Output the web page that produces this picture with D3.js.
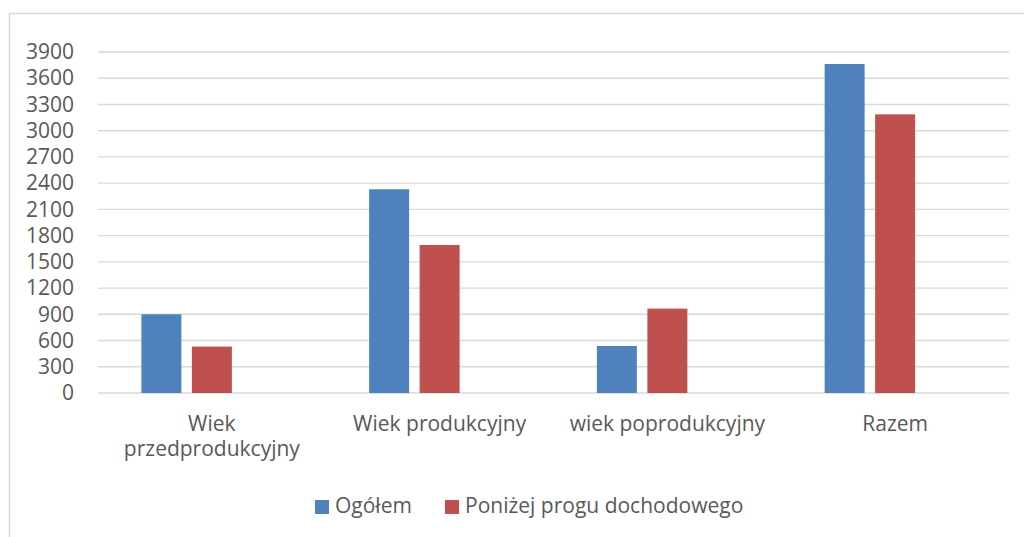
<!DOCTYPE html>
<html>
<head>
<meta charset="utf-8">
<script src="https://cdn.jsdelivr.net/npm/d3@7"></script>
<style>
  body { margin: 0; background: #fff; }
  text { font-family: 'Open Sans', sans-serif; fill: #595959; }
</style>
</head>
<body>
<div id="chart"></div>
<script>
const categories = ['Wiek przedprodukcyjny', 'Wiek produkcyjny', 'wiek poprodukcyjny', 'Razem']
const seriesNames = ['Ogółem', 'Poniżej progu dochodowego']
const ogolem = [900, 2330, 538, 3763]
const ponizej = [531, 1693, 965, 3187]
const yTicks = [0, 300, 600, 900, 1200, 1500, 1800, 2100, 2400, 2700, 3000, 3300, 3600, 3900]
const colors = ['#4f81bd', '#c0504d']

const data = categories.map((c, i) => ({ category: c, values: [ogolem[i], ponizej[i]] }))

const width = 1024
const height = 537
const margin = { left: 98, right: 15, top: 52, bottom: 144 }

const svg = d3.select('#chart')
  .append('svg')
  .attr('width', width)
  .attr('height', height)

// chart frame (left and top edges visible)
svg.append('path')
  .attr('d', `M9.5,${height} V13.5 H${width}`)
  .attr('fill', 'none')
  .attr('stroke', '#d9d9d9')
  .attr('stroke-width', 1.5)

const x0 = d3.scaleBand()
  .domain(categories)
  .range([margin.left, width - margin.right])
  .paddingInner(0.381)
  .paddingOuter(0.1905)

// Excel keeps a third (empty) slot in each cluster
const x1 = d3.scaleBand()
  .domain([...seriesNames, ''])
  .range([0, x0.bandwidth()])
  .paddingInner(0.208)

const y = d3.scaleLinear()
  .domain([0, 3900])
  .range([height - margin.bottom, margin.top])

// gridlines
svg.append('g')
  .selectAll('line')
  .data(yTicks)
  .join('line')
    .attr('x1', margin.left)
    .attr('x2', width - margin.right)
    .attr('y1', d => y(d))
    .attr('y2', d => y(d))
    .attr('stroke', '#d9d9d9')
    .attr('stroke-width', 1.4)

// y axis labels
const yAxis = svg.append('g')
  .attr('transform', 'translate(74,0)')
  .call(d3.axisLeft(y).tickValues(yTicks).tickFormat(d3.format('d')).tickSize(0).tickPadding(0))
yAxis.select('.domain').remove()
yAxis.selectAll('text')
  .attr('font-size', '21px')
  .attr('font-family', 'Open Sans, sans-serif')
  .attr('fill', '#595959')

// bars
const groups = svg.append('g')
  .selectAll('g')
  .data(data)
  .join('g')
    .attr('transform', d => `translate(${x0(d.category)},0)`)

groups.selectAll('rect')
  .data(d => d.values.map((v, i) => ({ key: seriesNames[i], value: v, i })))
  .join('rect')
    .attr('x', d => x1(d.key))
    .attr('y', d => y(d.value))
    .attr('width', x1.bandwidth())
    .attr('height', d => y(0) - y(d.value))
    .attr('fill', d => colors[d.i])

// category labels with wrapping
const labels = svg.append('g')
  .selectAll('text')
  .data(categories)
  .join('text')
    .attr('text-anchor', 'middle')
    .attr('font-size', '21px')
    .attr('x', d => x0(d) + x0.bandwidth() / 2)
    .attr('y', 431)

labels.each(function (d) {
  const el = d3.select(this)
  const maxW = x0.step()
  const words = d.split(' ')
  let line = []
  let tspan = el.append('tspan').attr('x', el.attr('x')).attr('dy', 0)
  words.forEach(w => {
    line.push(w)
    tspan.text(line.join(' '))
    if (tspan.node().getComputedTextLength() > maxW && line.length > 1) {
      line.pop()
      tspan.text(line.join(' '))
      line = [w]
      tspan = el.append('tspan').attr('x', el.attr('x')).attr('dy', 25).text(w)
    }
  })
})

// legend
const legendX = [315, 445]
const legend = svg.append('g')
  .selectAll('g')
  .data(seriesNames)
  .join('g')
    .attr('transform', (d, i) => `translate(${legendX[i]},500)`)

legend.append('rect')
  .attr('width', 14)
  .attr('height', 14)
  .attr('fill', (d, i) => colors[i])

legend.append('text')
  .attr('x', 20)
  .attr('y', 13)
  .attr('font-size', '21px')
  .text(d => d)
</script>
</body>
</html>
